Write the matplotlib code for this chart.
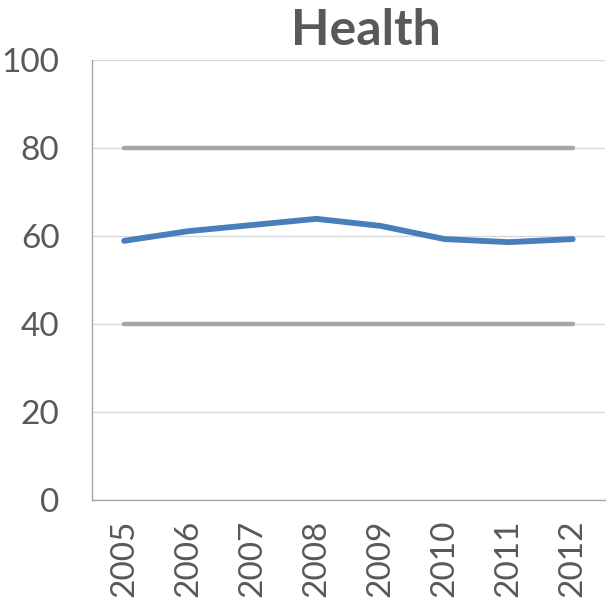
import matplotlib
matplotlib.use("Agg")
import matplotlib.pyplot as plt

years = ["2005", "2006", "2007", "2008", "2009", "2010", "2011", "2012"]
health = [58.9, 61.1, 62.5, 63.9, 62.3, 59.3, 58.6, 59.3]
upper = [80] * 8
lower = [40] * 8
yticks = [0, 20, 40, 60, 80, 100]

plt.rcParams['font.family'] = ['Lato', 'DejaVu Sans']
fig = plt.figure(figsize=(6.06, 6.05), dpi=100)
ax = fig.add_axes([0.152, 0.1736, 0.846, 0.7272])
x = list(range(len(years)))
for v in yticks:
    ax.axhline(v, color="#D9D9D9", lw=1, zorder=0)
ax.plot(x, upper, color="#A5A5A5", lw=3.2, solid_capstyle="round")
ax.plot(x, lower, color="#A5A5A5", lw=3.2, solid_capstyle="round")
ax.plot(x, health, color="#4A7EBB", lw=4.2, solid_capstyle="round", solid_joinstyle="round")
ax.set_xlim(-0.5, len(years) - 0.5)
ax.set_ylim(0, 100)
ax.set_yticks(yticks)
ax.set_xticks(x)
ax.set_xticklabels(years, rotation=90)
ax.tick_params(axis="both", length=0, labelsize=24, colors="#595959")
ax.tick_params(axis="x", pad=14)
ax.tick_params(axis="y", pad=23.5)
for s in ["top", "right"]:
    ax.spines[s].set_visible(False)
for s in ["left", "bottom"]:
    ax.spines[s].set_color("#A6A6A6")
    ax.spines[s].set_linewidth(1)
ax.set_title("Health", fontsize=36, fontweight="bold", color="#595959", pad=11, x=0.534)
fig.savefig("out.png", dpi=100)
